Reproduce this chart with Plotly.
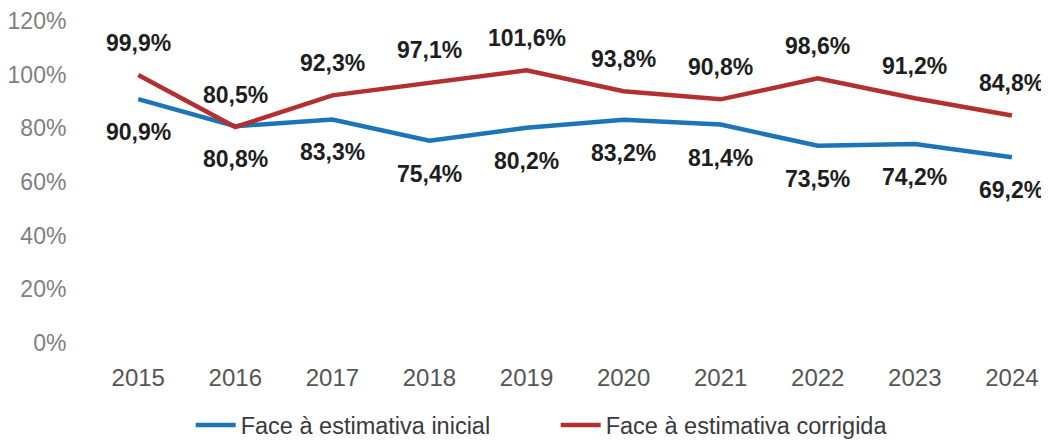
import plotly.graph_objects as go

years = [2015, 2016, 2017, 2018, 2019, 2020, 2021, 2022, 2023, 2024]
inicial = [90.9, 80.8, 83.3, 75.4, 80.2, 83.2, 81.4, 73.5, 74.2, 69.2]
corrigida = [99.9, 80.5, 92.3, 97.1, 101.6, 93.8, 90.8, 98.6, 91.2, 84.8]
y_ticks = [0, 20, 40, 60, 80, 100, 120]
y_tick_labels = ["0%", "20%", "40%", "60%", "80%", "100%", "120%"]

BLUE = "#1c75b6"
RED = "#b2302f"

def fmt(v):
    return f"{v:.1f}".replace(".", ",") + "%"

fig = go.Figure()
fig.add_trace(go.Scatter(x=years, y=inicial, mode="lines", name="Face à estimativa inicial",
                         line=dict(color=BLUE, width=4.5)))
fig.add_trace(go.Scatter(x=years, y=corrigida, mode="lines", name="Face à estimativa corrigida",
                         line=dict(color=RED, width=4.5)))

lab_font = dict(family="Liberation Sans, Arial, sans-serif", size=23, color="#1e1e1e")
for x, v in zip(years, corrigida):
    fig.add_annotation(x=x, y=v, text="<b>" + fmt(v) + "</b>", showarrow=False,
                       yshift=32, font=lab_font)
for x, v in zip(years, inicial):
    fig.add_annotation(x=x, y=v, text="<b>" + fmt(v) + "</b>", showarrow=False,
                       yshift=-33, font=lab_font)

fig.update_layout(
    width=1049, height=441,
    margin=dict(l=72, r=16, t=13, b=106),
    paper_bgcolor="white", plot_bgcolor="white",
    font=dict(family="Liberation Sans, Arial, sans-serif", size=22, color="#666666"),
    legend=dict(orientation="h", x=0.495, xanchor="center",
                yref="container", y=0.054, yanchor="middle",
                font=dict(size=23.5, color="#3a3a3a"), itemwidth=40, tracegroupgap=0,
                entrywidth=310, entrywidthmode="pixels"),
    showlegend=True,
)
fig.update_xaxes(range=[2014.4, 2024.3], tickvals=years, ticktext=[str(y) for y in years],
                 showgrid=False, zeroline=False, showline=False, automargin=False,
                 ticks="outside", ticklen=13, tickcolor="rgba(0,0,0,0)",
                 tickfont=dict(size=24, color="#555555"))
fig.update_yaxes(range=[0, 120], tickvals=y_ticks, ticktext=y_tick_labels,
                 showgrid=False, zeroline=False, showline=False, automargin=False,
                 ticks="outside", ticklen=8, tickcolor="rgba(0,0,0,0)",
                 tickfont=dict(size=23, color="#808080"))

fig.write_html("out.html")
